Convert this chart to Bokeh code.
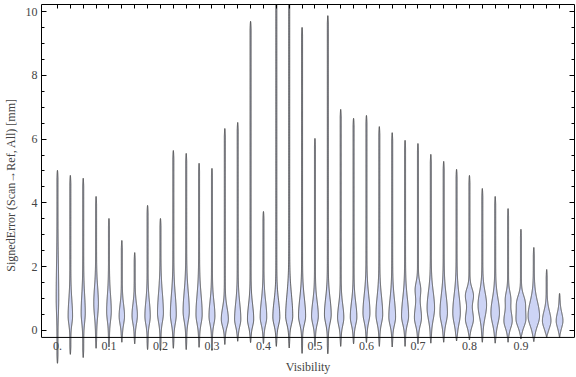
import numpy as np
from bokeh.plotting import figure
from bokeh.models import (Range1d, LinearAxis, FixedTicker, Span, ColumnDataSource,
                          CustomJSTickFormatter)
from bokeh.embed import file_html
from bokeh.resources import INLINE

# ---------------- data ----------------
visibility = [0.000, 0.025, 0.050, 0.075, 0.100, 0.125, 0.150, 0.175, 0.200, 0.225,
              0.250, 0.275, 0.300, 0.325, 0.350, 0.375, 0.400, 0.425, 0.450, 0.475,
              0.500, 0.525, 0.550, 0.575, 0.600, 0.625, 0.650, 0.675, 0.700, 0.725,
              0.750, 0.775, 0.800, 0.825, 0.850, 0.875, 0.900, 0.925, 0.950, 0.975]

max_error = [5.02, 4.86, 4.77, 4.20, 3.51, 2.82, 2.44, 3.92, 3.51, 5.64,
             5.55, 5.24, 5.08, 6.33, 6.52, 9.69, 3.73, 10.9, 10.9, 9.50,
             6.02, 9.87, 6.93, 6.65, 6.74, 6.39, 6.20, 5.96, 5.86, 5.52,
             5.30, 5.05, 4.86, 4.45, 4.20, 3.82, 3.17, 2.60, 1.91, 1.16]

min_error = [-1.03, -0.75, -0.85, -0.56, -0.52, -0.37, -0.42, -0.60, -0.63, -0.56,
             -0.60, -0.53, -0.63, -0.44, -0.34, -0.38, -0.41, -0.50, -0.55, -0.72,
             -0.50, -0.73, -0.50, -0.42, -0.38, -0.50, -0.52, -0.50, -0.42, -0.40,
             -0.37, -0.33, -0.30, -0.37, -0.40, -0.37, -0.27, -0.35, -0.23, -0.23]

mode_error = [1.00, 0.45, 0.55, 0.85, 0.60, 0.45, 0.47, 0.45, 0.55, 0.50,
              0.60, 0.50, 0.45, 0.35, 0.35, 0.35, 0.42, 0.42, 0.45, 0.45,
              0.45, 0.50, 0.40, 0.42, 0.55, 0.50, 0.42, 0.45, 0.40, 0.70,
              0.55, 0.55, 0.35, 0.80, 0.55, 0.30, 0.35, 0.45, 0.30, 0.30]

spread_up = [1.00, 0.50, 0.55, 0.50, 0.50, 0.35, 0.35, 0.45, 0.60, 0.60,
             0.60, 0.60, 0.45, 0.35, 0.50, 0.45, 0.50, 0.50, 0.65, 0.55,
             0.45, 0.50, 0.40, 0.45, 0.55, 0.55, 0.55, 0.55, 0.40, 0.50,
             0.55, 0.55, 0.30, 0.40, 0.45, 0.30, 0.30, 0.45, 0.30, 0.25]

spread_down = [0.45, 0.25, 0.30, 0.40, 0.30, 0.25, 0.25, 0.25, 0.28, 0.28,
               0.30, 0.28, 0.25, 0.22, 0.22, 0.22, 0.24, 0.25, 0.25, 0.25,
               0.25, 0.27, 0.24, 0.24, 0.28, 0.27, 0.25, 0.25, 0.24, 0.35,
               0.30, 0.33, 0.22, 0.38, 0.33, 0.22, 0.23, 0.30, 0.22, 0.20]

# relative density at the main mode (1.0 = widest violin)
peak_density = [0.15, 0.33, 0.30, 0.35, 0.35, 0.42, 0.42, 0.42, 0.47, 0.47,
                0.50, 0.50, 0.47, 0.58, 0.50, 0.50, 0.53, 0.57, 0.58, 0.58,
                0.55, 0.55, 0.50, 0.53, 0.57, 0.55, 0.55, 0.58, 0.58, 0.62,
                0.62, 0.63, 0.67, 0.72, 0.72, 0.70, 0.83, 1.00, 0.72, 0.55]

# secondary mode (0 density = none)
bump_error = [0, 0, 0, 0, 0, 0, 0, 0, 0, 0,
              0, 0, 0, 0, 0, 0, 0, 0, 0, 0,
              0, 0, 0, 0, 0, 0, 0, 0, 1.30, 0,
              0, 0, 1.10, 0, 0, 1.00, 0.90, 0, 0, 0]
bump_density = [0, 0, 0, 0, 0, 0, 0, 0, 0, 0,
                0, 0, 0, 0, 0, 0, 0, 0, 0, 0,
                0, 0, 0, 0, 0, 0, 0, 0, 0.40, 0,
                0, 0, 0.65, 0, 0, 0.40, 0.58, 0, 0, 0]

x_tick_values = [0.0, 0.1, 0.2, 0.3, 0.4, 0.5, 0.6, 0.7, 0.8, 0.9]
x_tick_labels = ["0.", "0.1", "0.2", "0.3", "0.4", "0.5", "0.6", "0.7", "0.8", "0.9"]
y_tick_values = [0, 2, 4, 6, 8, 10]
y_minor_values = [v * 0.5 for v in range(0, 21)]

# ---------------- style ----------------
FONT = "Liberation Serif"
MAX_HALF = 5.3 / 520.0   # half width (x units) of density 1.0
TAIL_HALF = 0.5 / 520.0
FILL = "#cdd4f5"
EDGE = "#4a4a4a"

# ---------------- build violin outlines ----------------
xs, ys = [], []
for i, x0 in enumerate(visibility):
    lo, hi = min_error[i], max_error[i]
    y = np.linspace(lo, hi, 500)
    m = mode_error[i]
    s = np.where(y >= m, spread_up[i], spread_down[i])
    d = peak_density[i] * np.exp(-0.5 * ((y - m) / s) ** 2)
    if bump_density[i] > 0:
        d = d + bump_density[i] * np.exp(-0.5 * ((y - bump_error[i]) / 0.22) ** 2)
    taper = np.clip(np.minimum(hi - y, y - lo) / 0.25, 0, 1) ** 0.5
    w = MAX_HALF * d * np.clip((y - lo) / 0.15, 0, 1) + TAIL_HALF * taper
    xs.append(list(np.concatenate([x0 + w, (x0 - w)[::-1]])))
    ys.append(list(np.concatenate([y, y[::-1]])))

src = ColumnDataSource(dict(xs=xs, ys=ys))

p = figure(width=576, height=377,
           x_range=Range1d(-0.031, 1.004), y_range=Range1d(-1.10, 10.22),
           output_backend="svg", toolbar_location=None,
           x_axis_location=None, y_axis_location=None,
           min_border_left=36, min_border_right=2, min_border_top=4, min_border_bottom=12)
p.outline_line_color = None
p.background_fill_color = "white"
p.border_fill_color = "white"
for g in p.grid:
    g.visible = False

p.patches("xs", "ys", source=src, fill_color=FILL, line_color=EDGE, line_width=1)

empty = CustomJSTickFormatter(code="return '';")

# left axis
left = LinearAxis(ticker=FixedTicker(ticks=y_tick_values, minor_ticks=y_minor_values),
                  bounds=(-0.22, 10.22),
                  axis_label="SignedError (Scan→Ref, All) [mm]",
                  axis_label_text_font=FONT, axis_label_text_font_style="normal",
                  axis_label_text_font_size="12px", axis_label_standoff=5,
                  major_label_text_font=FONT, major_label_text_font_size="12px",
                  major_label_standoff=4,
                  major_tick_in=5, major_tick_out=0, minor_tick_in=3, minor_tick_out=0,
                  axis_line_color="black", major_tick_line_color="black",
                  minor_tick_line_color="black")
p.add_layout(left, "left")

# right axis (ticks only)
right = LinearAxis(ticker=FixedTicker(ticks=y_tick_values, minor_ticks=y_minor_values),
                   bounds=(-0.22, 10.22), formatter=empty,
                   major_label_text_font_size="1px", major_label_standoff=0,
                   major_tick_in=5, major_tick_out=0, minor_tick_in=3, minor_tick_out=0,
                   axis_line_color="black", major_tick_line_color="black",
                   minor_tick_line_color="black")
p.add_layout(right, "right")

# top axis (ticks at every violin position)
top = LinearAxis(ticker=FixedTicker(ticks=visibility, minor_ticks=[]), formatter=empty,
                 major_label_text_font_size="1px", major_label_standoff=0,
                 major_tick_in=4, major_tick_out=0, minor_tick_in=0, minor_tick_out=0,
                 axis_line_color="black", major_tick_line_color="black")
p.add_layout(top, "above")

# bottom axis: labels pulled up to the frame line at -0.22
bottom = LinearAxis(ticker=FixedTicker(ticks=x_tick_values, minor_ticks=[]),
                    major_label_overrides=dict(zip(x_tick_values, x_tick_labels)),
                    axis_label="Visibility",
                    axis_label_text_font=FONT, axis_label_text_font_style="normal",
                    axis_label_text_font_size="12px", axis_label_standoff=7,
                    major_label_text_font=FONT, major_label_text_font_size="12px",
                    major_label_standoff=-24,
                    major_tick_in=0, major_tick_out=0,
                    axis_line_color=None, major_tick_line_color=None,
                    minor_tick_line_color=None)
p.add_layout(bottom, "below")

p.add_layout(Span(location=-0.22, dimension="width", line_color="black", line_width=1))

open("out.html", "w").write(file_html(p, INLINE))
